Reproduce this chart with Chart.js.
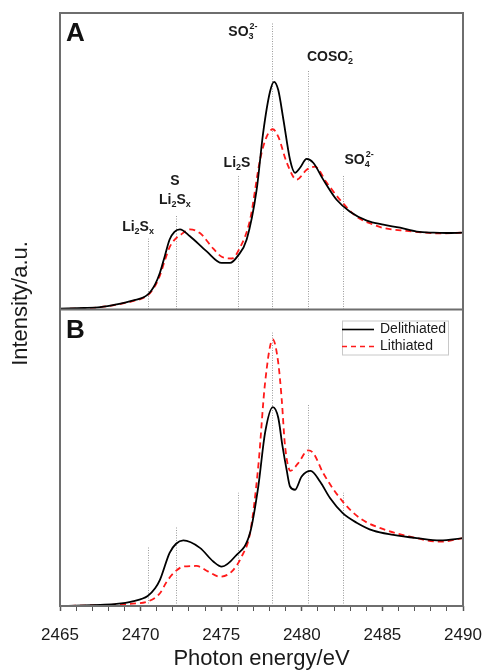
<!DOCTYPE html>
<html lang="en">

<head>
    <title>S K-edge XANES</title>
    <script src="https://cdn.jsdelivr.net/npm/chart.js"></script>
    <style>
        body { margin: 0; background: #fff; }
    </style>
</head>

<body>
    <canvas id="myChart" width="487" height="672"></canvas>

    <script type="text/javascript">

        // panel A (top)
        const energyA_deli = [2465, 2466.5, 2467.5, 2468.5, 2469.5, 2470.44, 2470.9, 2471.2, 2471.5, 2471.8, 2472.1, 2472.44, 2473.06, 2474.1, 2475.03, 2475.55, 2476.02, 2476.58, 2477.2, 2477.6, 2478.03, 2478.28, 2478.54, 2478.86, 2479.27, 2479.58, 2479.89, 2480.3, 2480.71, 2481.33, 2482.16, 2482.99, 2484.03, 2485.06, 2486.1, 2487.13, 2488.16, 2489, 2490];
        const intensityA_deli = [0.003, 0.005, 0.008, 0.017, 0.03, 0.05, 0.085, 0.124, 0.18, 0.236, 0.262, 0.27, 0.247, 0.196, 0.157, 0.157, 0.18, 0.236, 0.404, 0.595, 0.735, 0.768, 0.74, 0.64, 0.505, 0.461, 0.478, 0.508, 0.495, 0.438, 0.37, 0.33, 0.30, 0.286, 0.276, 0.263, 0.259, 0.258, 0.259];
        const energyA_li = [2465, 2466.5, 2467.5, 2468.5, 2469.5, 2470.44, 2470.9, 2471.2, 2471.5, 2471.8, 2472.1, 2472.44, 2473.06, 2473.68, 2474.51, 2475.03, 2475.65, 2476.16, 2476.79, 2477.41, 2477.82, 2478.2, 2478.54, 2479.07, 2479.68, 2480.3, 2480.82, 2481.54, 2482.37, 2483.4, 2484.5, 2485.06, 2486.5, 2487.5, 2488.5, 2490];
        const intensityA_li = [0.002, 0.004, 0.008, 0.016, 0.028, 0.048, 0.08, 0.115, 0.165, 0.21, 0.235, 0.25, 0.27, 0.258, 0.205, 0.178, 0.172, 0.208, 0.303, 0.505, 0.583, 0.608, 0.583, 0.495, 0.438, 0.471, 0.482, 0.428, 0.37, 0.313, 0.285, 0.275, 0.265, 0.26, 0.257, 0.259];

        // panel B (bottom)
        const energyB_deli = [2465, 2466.5, 2467.5, 2468.5, 2469.5, 2470.44, 2470.9, 2471.2, 2471.8, 2472.2, 2472.65, 2473.68, 2474.51, 2475.03, 2475.86, 2476.79, 2477.3, 2477.72, 2478.2, 2478.54, 2478.8, 2479.06, 2479.27, 2479.58, 2479.99, 2480.55, 2481.13, 2481.75, 2482.54, 2483.4, 2484.44, 2485.68, 2487.13, 2488.58, 2490];
        const intensityB_deli = [0, 0.002, 0.004, 0.007, 0.016, 0.034, 0.06, 0.088, 0.179, 0.21, 0.221, 0.196, 0.15, 0.133, 0.167, 0.247, 0.403, 0.584, 0.671, 0.635, 0.54, 0.459, 0.403, 0.392, 0.437, 0.456, 0.42, 0.364, 0.313, 0.281, 0.254, 0.24, 0.229, 0.221, 0.229];
        const energyB_li = [2465, 2467, 2468.5, 2469.5, 2470.44, 2471.2, 2471.6, 2472.03, 2472.65, 2473.47, 2474.2, 2474.93, 2475.65, 2476.27, 2476.79, 2477.3, 2477.72, 2478.2, 2478.54, 2478.75, 2478.96, 2479.3, 2479.78, 2480.4, 2480.71, 2481.33, 2482.54, 2483.61, 2485.06, 2486.71, 2488.58, 2490];
        const intensityB_li = [0, 0.002, 0.005, 0.008, 0.015, 0.043, 0.08, 0.11, 0.133, 0.135, 0.116, 0.099, 0.116, 0.167, 0.246, 0.471, 0.752, 0.899, 0.82, 0.70, 0.54, 0.456, 0.482, 0.525, 0.516, 0.448, 0.352, 0.296, 0.259, 0.234, 0.217, 0.229];

        // reference energies (dotted lines) and how high each line reaches in each panel
        const markerEnergy = [2470.44, 2472.2, 2476.02, 2478.13, 2480.36, 2482.54];
        const markerTopA = [0.239, 0.316, 0.451, 0.966, 0.808, 0.455];
        const markerTopB = [0.199, 0.267, 0.382, 0.922, 0.682, 0.382];

        const seriesNames = ['Delithiated', 'Lithiated'];
        const xTicks = [2465, 2470, 2475, 2480, 2485, 2490];

        const toPoints = (xs, ys) => xs.map((x, i) => ({ x: x, y: ys[i] }));

        const FONT = '"Liberation Sans", Arial, sans-serif';

        // label pieces: [text, 'n' normal | 'b' sub | 'p' sup]
        const peakLabels = [
            { x: 2469.84, y: 0.279, parts: [['Li', 'n'], ['2', 'b'], ['S', 'n'], ['x', 'b']] },
            { x: 2472.13, y: 0.434, parts: [['S', 'n']] },
            { x: 2472.13, y: 0.370, parts: [['Li', 'n'], ['2', 'b'], ['S', 'n'], ['x', 'b']] },
            { x: 2475.98, y: 0.495, parts: [['Li', 'n'], ['2', 'b'], ['S', 'n']] },
            { x: 2476.35, y: 0.936, parts: [['SO', 'n'], ['3', 'b'], ['2-', 'p']] },
            { x: 2481.75, y: 0.852, parts: [['COSO', 'n'], ['2', 'b'], ['-', 'p']] },
            { x: 2483.55, y: 0.505, parts: [['SO', 'n'], ['4', 'b'], ['2-', 'p']] }
        ];

        function drawRich(ctx, parts, cx, cy) {
            const big = 'bold 14px ' + FONT, small = 'bold 9px ' + FONT;
            let w = 0;
            const widths = parts.map(([t, k]) => {
                ctx.font = k === 'n' ? big : small;
                return ctx.measureText(t).width;
            });
            // a sup right after a sub sits above it
            const pos = [];
            for (let i = 0; i < parts.length; i++) {
                const k = parts[i][1];
                if (k === 'p' && i > 0 && parts[i - 1][1] === 'b') {
                    pos.push(pos[i - 1] + 1);
                    w = Math.max(w, pos[i - 1] + 1 + widths[i]);
                } else {
                    pos.push(w);
                    w += widths[i];
                }
            }
            const x0 = cx - w / 2;
            ctx.textBaseline = 'middle';
            ctx.textAlign = 'left';
            ctx.fillStyle = '#1a1a1a';
            parts.forEach(([t, k], i) => {
                ctx.font = k === 'n' ? big : small;
                const dy = k === 'b' ? 5 : (k === 'p' ? -5 : 0);
                ctx.fillText(t, x0 + pos[i], cy + dy);
            });
        }

        const xanesDecor = {
            id: 'xanesDecor',
            beforeDatasetsDraw(chart) {
                const { ctx, scales: { x, yA, yB } } = chart;
                ctx.save();
                ctx.strokeStyle = '#9a9a9a';
                ctx.lineWidth = 1;
                ctx.setLineDash([1, 1.5]);
                markerEnergy.forEach((e, i) => {
                    const px = Math.round(x.getPixelForValue(e)) + 0.5;
                    ctx.beginPath();
                    ctx.moveTo(px, yA.getPixelForValue(0));
                    ctx.lineTo(px, yA.getPixelForValue(markerTopA[i]));
                    ctx.moveTo(px, yB.getPixelForValue(0));
                    ctx.lineTo(px, yB.getPixelForValue(markerTopB[i]));
                    ctx.stroke();
                });
                ctx.restore();
            },
            afterDatasetsDraw(chart) {
                const { ctx, chartArea: { left, top, right, bottom }, scales: { x, yA, yB } } = chart;
                ctx.save();

                // frame + divider
                ctx.strokeStyle = '#6e6e6e';
                ctx.lineWidth = 2;
                ctx.strokeRect(left, top, right - left, bottom - top);
                ctx.beginPath();
                ctx.moveTo(left, yA.bottom);
                ctx.lineTo(right, yA.bottom);
                ctx.stroke();

                // peak labels
                peakLabels.forEach(l => drawRich(ctx, l.parts, x.getPixelForValue(l.x), yA.getPixelForValue(l.y)));

                // panel letters
                ctx.fillStyle = '#111';
                ctx.font = 'bold 26px ' + FONT;
                ctx.textAlign = 'left';
                ctx.textBaseline = 'middle';
                ctx.fillText('A', left + 6, yA.top + 21);
                ctx.fillText('B', left + 6, yB.top + 21);

                // legend
                const lx = right - 121, ly = yB.top + 11;
                ctx.strokeStyle = '#c8c8c8';
                ctx.lineWidth = 1;
                ctx.strokeRect(lx + 0.5, ly + 0.5, 106, 34);
                ctx.lineWidth = 1.6;
                ctx.strokeStyle = '#000';
                ctx.beginPath();
                ctx.moveTo(lx, ly + 9);
                ctx.lineTo(lx + 32, ly + 9);
                ctx.stroke();
                ctx.strokeStyle = '#ff1a1a';
                ctx.setLineDash([5, 4]);
                ctx.beginPath();
                ctx.moveTo(lx, ly + 26);
                ctx.lineTo(lx + 32, ly + 26);
                ctx.stroke();
                ctx.setLineDash([]);
                ctx.fillStyle = '#1a1a1a';
                ctx.font = '14px ' + FONT;
                ctx.fillText(seriesNames[0], lx + 38, ly + 9);
                ctx.fillText(seriesNames[1], lx + 38, ly + 26);

                // shared y title
                ctx.translate(21, (yA.top + yB.bottom) / 2 - 6);
                ctx.rotate(-Math.PI / 2);
                ctx.textAlign = 'center';
                ctx.fillStyle = '#1a1a1a';
                ctx.font = '22px ' + FONT;
                ctx.fillText('Intensity/a.u.', 0, 0);
                ctx.restore();
            }
        };

        const lineStyle = (color, dashed) => ({
            borderColor: color,
            borderWidth: 1.8,
            borderDash: dashed ? [6, 4] : [],
            pointRadius: 0,
            cubicInterpolationMode: 'monotone',
            fill: false
        });

        const hiddenY = (stackWeight) => ({
            type: 'linear',
            position: 'left',
            stack: 'panels',
            stackWeight: stackWeight,
            min: 0,
            max: 1,
            display: false
        });

        const ctx = document.getElementById('myChart');
        new Chart(ctx, {
            type: 'line',
            data: {
                datasets: [
                    { label: seriesNames[0], data: toPoints(energyA_deli, intensityA_deli), yAxisID: 'yA', ...lineStyle('#000', false) },
                    { label: seriesNames[1], data: toPoints(energyA_li, intensityA_li), yAxisID: 'yA', ...lineStyle('#ff1a1a', true) },
                    { label: seriesNames[0], data: toPoints(energyB_deli, intensityB_deli), yAxisID: 'yB', ...lineStyle('#000', false) },
                    { label: seriesNames[1], data: toPoints(energyB_li, intensityB_li), yAxisID: 'yB', ...lineStyle('#ff1a1a', true) }
                ]
            },
            options: {
                responsive: false,
                animation: false,
                layout: { padding: { left: 60, right: 24, top: 13, bottom: 0 } },
                plugins: {
                    legend: { display: false },
                    tooltip: { enabled: false }
                },
                scales: {
                    x: {
                        type: 'linear',
                        min: 2465,
                        max: 2490,
                        afterFit: (s) => {
                            s.height = 66;
                            // labels fit inside the outer padding, keep the plot width fixed
                            s.paddingLeft = 0;
                            s.paddingRight = 0;
                        },
                        afterBuildTicks: (s) => {
                            const t = [];
                            for (let v = 2465; v <= 2490; v++) t.push({ value: v });
                            s.ticks = t;
                        },
                        ticks: {
                            autoSkip: false,
                            maxRotation: 0,
                            padding: 14,
                            color: '#1a1a1a',
                            font: { family: FONT, size: 17 },
                            callback: (v) => xTicks.includes(v) ? String(v) : ''
                        },
                        grid: {
                            drawOnChartArea: false,
                            drawTicks: true,
                            tickLength: 5,
                            tickColor: '#555',
                            tickWidth: (c) => (c.tick && c.tick.value % 5 === 0) ? 1.5 : 1
                        },
                        border: { display: false },
                        title: {
                            display: true,
                            text: 'Photon energy/eV',
                            color: '#1a1a1a',
                            font: { family: FONT, size: 22 },
                            padding: { top: 0, bottom: 0 }
                        }
                    },
                    // the stack is laid out bottom-up, so the lower panel comes first
                    yB: hiddenY(1),
                    yA: hiddenY(1)
                }
            },
            plugins: [xanesDecor]
        });
    </script>
</body>

</html>
